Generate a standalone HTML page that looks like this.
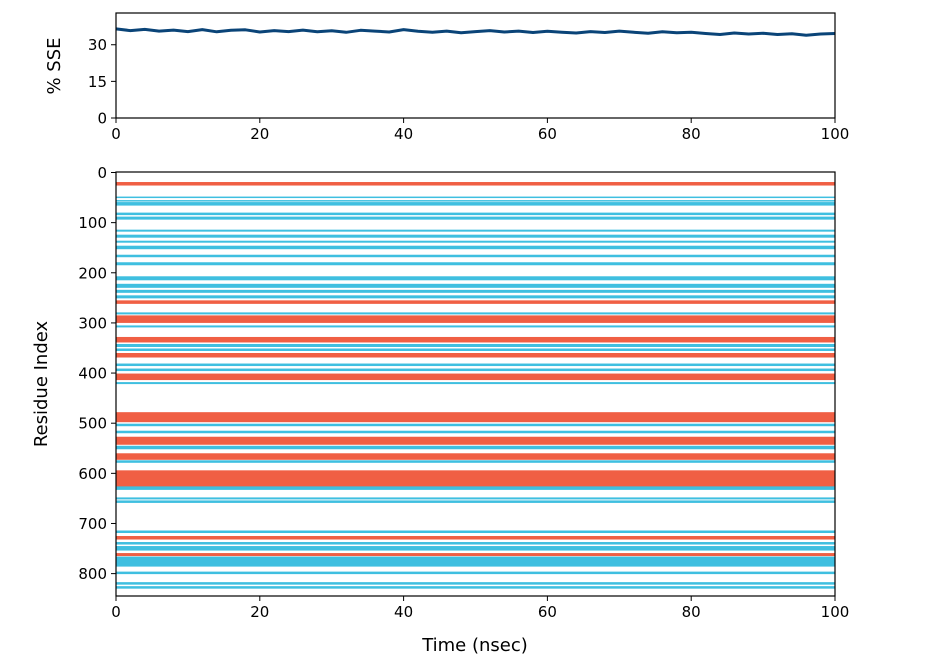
<!DOCTYPE html>
<html><head><meta charset="utf-8"><style>
body{margin:0;background:#fff;font-family:"Liberation Sans","DejaVu Sans",sans-serif}
svg text{font-family:"DejaVu Sans","Liberation Sans",sans-serif;fill:#000}
</style></head><body>
<svg id="chart" width="928" height="661" xmlns="http://www.w3.org/2000/svg">
<rect width="928" height="661" fill="#fff"/>
<g id="topPanel"></g>
<g id="botPanel"></g>
</svg>
<script>
// SSE % over time (sampled every 2 ns, 0..100)
const sseTimes = [0,2,4,6,8,10,12,14,16,18,20,22,24,26,28,30,32,34,36,38,40,42,44,46,48,50,52,54,56,58,60,62,64,66,68,70,72,74,76,78,80,82,84,86,88,90,92,94,96,98,100];
const sseValues = [36.5,35.8,36.3,35.6,36.0,35.4,36.2,35.3,35.9,36.1,35.2,35.8,35.4,36.0,35.3,35.7,35.1,35.9,35.6,35.2,36.2,35.5,35.1,35.6,34.9,35.4,35.8,35.2,35.6,35.0,35.5,35.1,34.8,35.4,35.0,35.6,35.1,34.7,35.3,34.9,35.1,34.6,34.2,34.8,34.4,34.7,34.2,34.5,33.9,34.4,34.6];
const topYTicks = [0,15,30];
const xTicks = [0,20,40,60,80,100];
// Secondary structure bands: start residue, end residue, type (H=helix, E=strand)
const bandStart = [19,48,55,59,80,88,114,124,136,146,164,179,207,222,234,245,255,279,285,305,328,342,351,360,381,391,401,418,478,501,515,527,545,560,574,594,626,648,654,714,725,737,745,759,766,796,817,825];
const bandEnd   = [25,50,57,65,84,93,117,129,139,152,168,184,214,229,239,250,261,282,299,308,338,347,355,368,385,395,413,421,497,505,519,542,551,572,578,626,632,651,658,718,731,741,753,764,785,800,821,829];
const bandType  = ["H","E","E","E","E","E","E","E","E","E","E","E","E","E","E","E","H","E","H","E","H","E","E","H","E","E","H","E","H","E","E","H","E","H","E","H","E","E","E","E","H","E","E","H","E","E","E","E"];
const botYTicks = [0,100,200,300,400,500,600,700,800];

const NS="http://www.w3.org/2000/svg";
function mk(tag,attrs,parent){const e=document.createElementNS(NS,tag);for(const k in attrs)e.setAttribute(k,attrs[k]);parent.appendChild(e);return e;}
const X0=116,X1=835;
const xs=t=>X0+(t/100)*(X1-X0);
const yTop=v=>118-(v/43)*(118-13);
const yBot=r=>172.5+r*0.5014;
const gTop=document.getElementById('topPanel'), gBot=document.getElementById('botPanel');

const colors={H:"#f05f44",E:"#3fbfe0"};
for(let i=0;i<bandStart.length;i++){
  const y1=yBot(bandStart[i]), y2=yBot(bandEnd[i]+1);
  const r=mk('rect',{x:X0,y:y1,width:X1-X0,height:Math.max(1.5,y2-y1),fill:colors[bandType[i]]},gBot);
  
  
}
let d='';
sseTimes.forEach((t,i)=>{d+=(i?'L':'M')+xs(t).toFixed(1)+','+yTop(sseValues[i]).toFixed(1);});
const ln=mk('path',{d:d,fill:'none',stroke:'#0a4478','stroke-width':3,'stroke-linejoin':'round'},gTop);



function frame(g,y0,y1,name){
  const f=mk('rect',{x:X0,y:y0,width:X1-X0,height:y1-y0,fill:'none',stroke:'#000','stroke-width':1.2},g);
  
  
}
frame(gTop,13,118,'top-axes-frame');
frame(gBot,172,596,'bottom-axes-frame');

function xAxis(g,yb,name){
  xTicks.forEach(t=>{
    mk('line',{x1:xs(t),x2:xs(t),y1:yb,y2:yb+5,stroke:'#000','stroke-width':1},g);
    const tx=mk('text',{x:xs(t),y:yb+21,'text-anchor':'middle','font-size':15},g);
    tx.textContent=t;
    
    
  });
}
xAxis(gTop,118,'top-x-tick-label');
xAxis(gBot,596,'bottom-x-tick-label');
topYTicks.forEach(v=>{
  mk('line',{x1:X0-5,x2:X0,y1:yTop(v),y2:yTop(v),stroke:'#000','stroke-width':1},gTop);
  const tx=mk('text',{x:X0-9,y:yTop(v)+5.5,'text-anchor':'end','font-size':15},gTop);
  tx.textContent=v;
  
  
});
botYTicks.forEach(v=>{
  mk('line',{x1:X0-5,x2:X0,y1:yBot(v),y2:yBot(v),stroke:'#000','stroke-width':1},gBot);
  const tx=mk('text',{x:X0-9,y:yBot(v)+5.5,'text-anchor':'end','font-size':15},gBot);
  tx.textContent=v;
  
  
});
const t1=mk('text',{x:0,y:0,'text-anchor':'middle','font-size':18,transform:'translate(60,66) rotate(-90)'},gTop);
t1.textContent='% SSE';


const t2=mk('text',{x:0,y:0,'text-anchor':'middle','font-size':18,transform:'translate(47,384) rotate(-90)'},gBot);
t2.textContent='Residue Index';


const t3=mk('text',{x:475,y:651,'text-anchor':'middle','font-size':18},gBot);
t3.textContent='Time (nsec)';


</script>
</body></html>
